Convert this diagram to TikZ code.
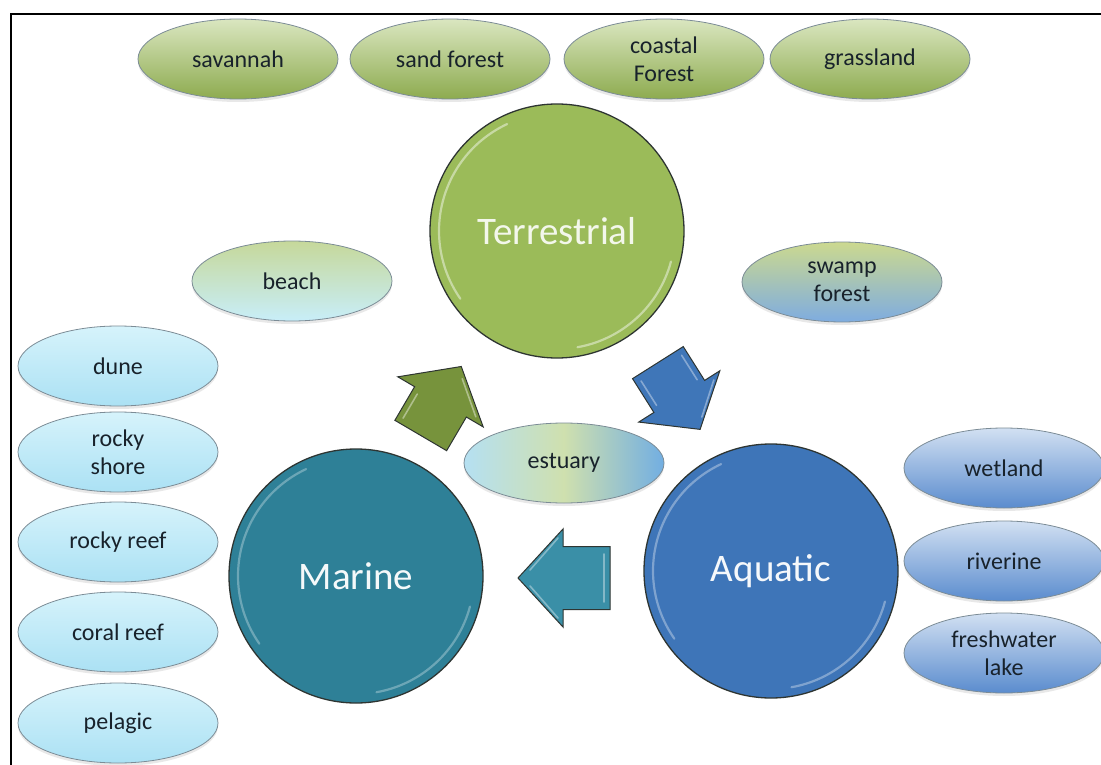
\documentclass[tikz,border=0pt]{standalone}
\usepackage{fontspec}
\setmainfont{Carlito}
\usetikzlibrary{shapes.geometric,shadows}
\definecolor{tTop}{HTML}{DAE6C0}
\definecolor{tBot}{HTML}{8DAB4F}
\definecolor{mTop}{HTML}{D6F3FB}
\definecolor{mBot}{HTML}{ABE1F4}
\definecolor{aTop}{HTML}{D2E0F2}
\definecolor{aBot}{HTML}{5A8CCE}
\definecolor{bGreen}{HTML}{C6D89A}
\definecolor{bCyan}{HTML}{C8EEF9}
\definecolor{sGreen}{HTML}{CCD98F}
\definecolor{sBlue}{HTML}{7EACE0}
\definecolor{eLeft}{HTML}{B5E0F2}
\definecolor{eMid}{HTML}{CFE0AE}
\definecolor{eRight}{HTML}{72AEE2}
\definecolor{terrC}{HTML}{9BBB59}
\definecolor{aquaC}{HTML}{3E75B8}
\definecolor{mariC}{HTML}{2E8097}
\definecolor{arrG}{HTML}{77933C}
\definecolor{arrB}{HTML}{3F76B8}
\definecolor{arrT}{HTML}{3A8FA7}
\definecolor{edgegray}{HTML}{7C8C96}
\definecolor{labeltext}{HTML}{18222B}
\definecolor{darkedge}{HTML}{2E3532}
\begin{document}
\begin{tikzpicture}[x=1pt,y=-1pt,
  lbl/.style={ellipse, minimum width=200pt, minimum height=80pt, inner sep=0pt,
    draw=edgegray, line width=0.8pt, align=center, text=labeltext,
    font=\fontsize{24}{28}\selectfont,
    drop shadow={opacity=0.18, shadow xshift=0pt, shadow yshift=-3pt}},
  terrlbl/.style={lbl, top color=tTop, bottom color=tBot},
  marilbl/.style={lbl, top color=mTop, bottom color=mBot},
  aqualbl/.style={lbl, top color=aTop, bottom color=aBot},
  bigcirc/.style={circle, minimum size=254pt, inner sep=0pt, draw=darkedge,
    line width=1.3pt, font=\fontsize{39}{44}\selectfont},
  rim/.style={line width=2.2pt, line cap=round, opacity=0.75},
  blockarr/.style={draw=darkedge, line width=1pt, line join=miter},
  border/.style={line width=2pt, black}
]
\useasboundingbox (0,0) rectangle (1101,765);
\fill[white] (0,0) rectangle (1101,765);
\draw[border] (1101,14) -- (11,14) -- (11,765);

% top row
\node[terrlbl] (sav) at (238,59) {savannah};
\node[terrlbl] (sand) at (450,59) {sand forest};
\node[terrlbl] (coast) at (664,59) {coastal\\Forest};
\node[terrlbl] (grass) at (870,59) {grassland};

% big circles
\node[bigcirc, fill=terrC, text=white!88!terrC] (terr) at (557,231) {Terrestrial};
\node[bigcirc, fill=aquaC, text=white!95!aquaC] (aqua) at (771,571) {Aquatic};
\node[bigcirc, fill=mariC, text=white!95!mariC] (mari) at (356,576) {Marine};

% rims (bevel highlights)
\draw[rim, white!60!terrC] (terr.center) ++(115:118pt) arc[start angle=115, end angle=215, radius=118pt];
\draw[rim, white!60!terrC] (terr.center) ++(280:118pt) arc[start angle=280, end angle=345, radius=118pt];
\draw[rim, white!45!aquaC] (aqua.center) ++(115:118pt) arc[start angle=115, end angle=215, radius=118pt];
\draw[rim, white!45!aquaC] (aqua.center) ++(280:118pt) arc[start angle=280, end angle=345, radius=118pt];
\draw[rim, white!40!mariC] (mari.center) ++(115:118pt) arc[start angle=115, end angle=215, radius=118pt];
\draw[rim, white!40!mariC] (mari.center) ++(280:118pt) arc[start angle=280, end angle=345, radius=118pt];

% side ellipses
\node[lbl, top color=bGreen, bottom color=bCyan] (beach) at (292,281) {beach};
\node[lbl, top color=sGreen, bottom color=sBlue] (swamp) at (842,282) {swamp\\forest};
\node[lbl, left color=eLeft, right color=eRight, middle color=eMid] (est) at (564,463) {estuary};

% marine column
\node[marilbl] (dune) at (118,366) {dune};
\node[marilbl] (rshore) at (118,452) {rocky\\shore};
\node[marilbl] (rreef) at (118,542) {rocky reef};
\node[marilbl] (creef) at (118,632) {coral reef};
\node[marilbl] (pel) at (118,723) {pelagic};

% aquatic column
\node[aqualbl] (wet) at (1004,468) {wetland};
\node[aqualbl] (riv) at (1004,561) {riverine};
\node[aqualbl] (lake) at (1004,653) {freshwater\\lake};

% block arrows
\coordinate (ga) at (441,401);
\coordinate (ba) at (679,396);
\coordinate (ta) at (564,578);
\begin{scope}[shift={(ga)}, rotate=59.6]
  \draw[blockarr, fill=arrG] (-40,30) -- (-1,30) -- (-1,49.5) -- (40,0) -- (-1,-49.5) -- (-1,-30) -- (-40,-30) -- cycle;
  \draw[rim, white!55!arrG, line width=1.6pt] (-34,-24) -- (-6,-24);
  \draw[rim, white!55!arrG, line width=1.6pt] (4,38) -- (30,7);
\end{scope}
\begin{scope}[shift={(ba)}, rotate=-57.7]
  \draw[blockarr, fill=arrB] (-39.5,30) -- (0.5,30) -- (0.5,48) -- (39.5,0) -- (0.5,-48) -- (0.5,-30) -- (-39.5,-30) -- cycle;
  \draw[rim, white!50!arrB, line width=1.6pt] (-33,24) -- (-4,24);
  \draw[rim, white!50!arrB, line width=1.6pt] (-33,-24) -- (-4,-24);
  \draw[rim, white!50!arrB, line width=1.6pt] (5,-38) -- (30,-8);
\end{scope}
\begin{scope}[shift={(ta)}, rotate=180]
  \draw[blockarr, fill=arrT] (-46,31.5) -- (1,31.5) -- (1,49) -- (46,0) -- (1,-49) -- (1,-31.5) -- (-46,-31.5) -- cycle;
  \draw[rim, white!50!arrT, line width=1.6pt] (-40,-24) -- (-40,24);
  \draw[rim, white!50!arrT, line width=1.6pt] (6,40) -- (34,8);
  \draw[rim, white!50!arrT, line width=1.6pt] (6,-40) -- (34,-8);
\end{scope}
\end{tikzpicture}
\end{document}
